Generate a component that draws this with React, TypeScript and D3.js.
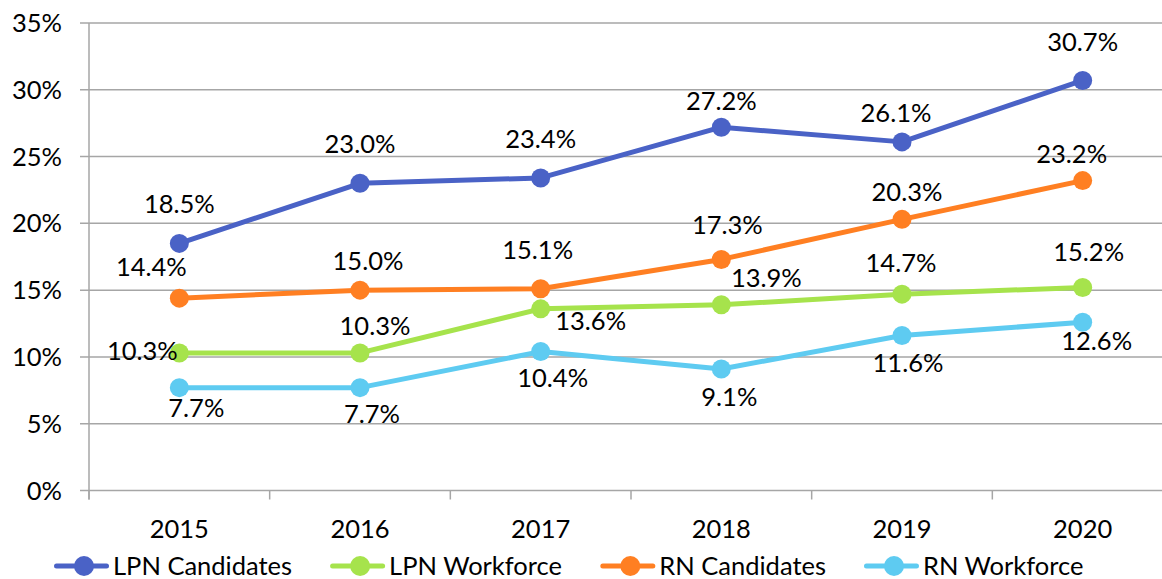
import React from 'react';
import * as d3 from 'd3';

// chart data
const years = ['2015', '2016', '2017', '2018', '2019', '2020'];
const lpnCandidates = [18.5, 23.0, 23.4, 27.2, 26.1, 30.7];
const lpnWorkforce = [10.3, 10.3, 13.6, 13.9, 14.7, 15.2];
const rnCandidates = [14.4, 15.0, 15.1, 17.3, 20.3, 23.2];
const rnWorkforce = [7.7, 7.7, 10.4, 9.1, 11.6, 12.6];
const yTicks = [0, 5, 10, 15, 20, 25, 30, 35];

// label nudges (px) relative to each point, as placed in the original
const lpnCandLabel = [[0, -30], [0, -30], [0, -30], [0, -17], [-6, -20], [0, -29]];
const lpnWorkLabel = [[-37, 7], [15, -18], [50, 21], [45, -18], [-1, -22], [6, -26]];
const rnCandLabel = [[-28, -22], [8, -20], [-3, -30], [6, -25], [5, -18], [-11, -18]];
const rnWorkLabel = [[17, 29], [12, 35], [12, 35], [8, 37], [6, 36], [14, 28]];

const series = [
  { name: 'LPN Candidates', values: lpnCandidates, color: '#4A62C6', labels: lpnCandLabel },
  { name: 'LPN Workforce', values: lpnWorkforce, color: '#A6E34C', labels: lpnWorkLabel },
  { name: 'RN Candidates', values: rnCandidates, color: '#FF7F22', labels: rnCandLabel },
  { name: 'RN Workforce', values: rnWorkforce, color: '#5ECBF1', labels: rnWorkLabel },
];

const width = 1162;
const height = 579;
const FONT = 'Lato, "Open Sans", sans-serif';
const fontSize = 25.5;
const grid = '#A6A6A6';

const left = 89;
const right = 1173;
const top = 23;
const bottom = 490.5;

const measure = (txt: string) => {
  const ctx = document.createElement('canvas').getContext('2d');
  if (!ctx) return txt.length * 12;
  ctx.font = `${fontSize}px Lato`;
  return ctx.measureText(txt).width;
};

export default function App() {
  const x = d3.scaleBand().domain(years).range([left, right]);
  const y = d3.scaleLinear().domain([0, 35]).range([bottom, top]);
  const cx = (yr: string) => (x(yr) as number) + x.bandwidth() / 2;

  const line = d3.line<number>()
    .x((_, i) => cx(years[i]))
    .y(d => y(d));

  // legend layout
  let lx = 54;
  const legend = series.map(s => {
    const item = { ...s, x: lx };
    lx += 55 + 4 + measure(s.name) + 38;
    return item;
  });

  const boundaries = d3.range(years.length + 1).map(i => left + i * x.step());

  return (
    <svg width={width} height={height}
      style={{ position: 'absolute', left: 0, top: 0, background: '#fff' }}
      fontFamily={FONT} fontSize={fontSize}>
      {/* gridlines */}
      {yTicks.map(t => (
        <g key={t}>
          <line x1={left - 9} x2={right} y1={y(t)} y2={y(t)} stroke={grid} strokeWidth={1.5} />
          <text x={62} y={y(t) + 9} textAnchor="end" fill="#000">{t}%</text>
        </g>
      ))}
      {/* axes */}
      <line x1={left} x2={left} y1={top} y2={bottom + 9} stroke={grid} strokeWidth={1.5} />
      {boundaries.map((b, i) => (
        <line key={i} x1={b} x2={b} y1={bottom} y2={bottom + 9} stroke={grid} strokeWidth={1.5} />
      ))}
      {years.map(yr => (
        <text key={yr} x={cx(yr)} y={538} textAnchor="middle" fill="#000">{yr}</text>
      ))}

      {/* series */}
      {series.map(s => (
        <g key={s.name}>
          <path d={line(s.values) || ''} fill="none" stroke={s.color} strokeWidth={5} strokeLinejoin="round" strokeLinecap="round" />
          {s.values.map((v, i) => (
            <circle key={i} cx={cx(years[i])} cy={y(v)} r={9.5} fill={s.color} />
          ))}
        </g>
      ))}

      {/* data labels */}
      {series.map(s => (
        <g key={s.name + '-lbl'}>
          {s.values.map((v, i) => (
            <text key={i} x={cx(years[i]) + s.labels[i][0]} y={y(v) + s.labels[i][1]}
              textAnchor="middle" fill="#000">{v.toFixed(1)}%</text>
          ))}
        </g>
      ))}

      {/* legend */}
      {legend.map(s => (
        <g key={s.name + '-leg'}>
          <line x1={s.x + 2.5} x2={s.x + 52.5} y1={566} y2={566} stroke={s.color} strokeWidth={5} strokeLinecap="round" />
          <circle cx={s.x + 30} cy={566} r={10} fill={s.color} />
          <text x={s.x + 59} y={575} fill="#000">{s.name}</text>
        </g>
      ))}
    </svg>
  );
}
